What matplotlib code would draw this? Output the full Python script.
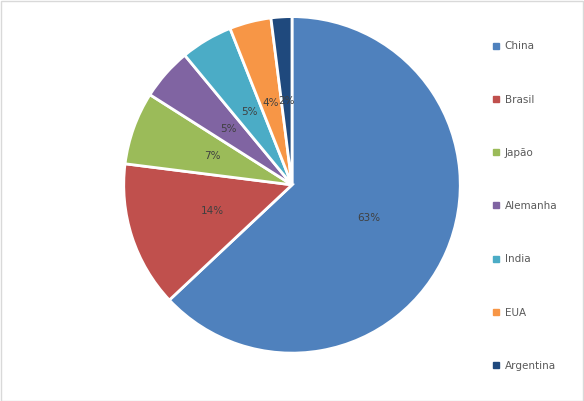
import matplotlib
matplotlib.use("Agg")
import matplotlib.pyplot as plt
from matplotlib.patches import Rectangle
from matplotlib.lines import Line2D

categories = ["China", "Brasil", "Japão", "Alemanha", "India", "EUA", "Argentina"]
values = [63, 14, 7, 5, 5, 4, 2]
colors = ["#4F81BD", "#C0504D", "#9BBB59", "#8064A2", "#4BACC6", "#F79646", "#1F497D"]

fig = plt.figure(figsize=(5.84, 4.01), dpi=100)
fig.patches.append(Rectangle((0.001, 0.001), 0.997, 0.997, transform=fig.transFigure,
                             fill=False, edgecolor="#D9D9D9", linewidth=1))
ax = fig.add_axes([0.5 - 0.291, 0.539 - 0.424, 0.582, 0.848])
wedges, texts, autotexts = ax.pie(values, colors=colors, startangle=90, counterclock=False,
       autopct=lambda p: f"{p:.0f}%", pctdistance=0.5,
       wedgeprops=dict(edgecolor="white", linewidth=2),
       textprops=dict(fontsize=7.5, color="#404040"))
ax.set_xlim(-1.01, 1.01)
ax.set_ylim(-1.01, 1.01)
ax.set_aspect("equal")

handles = [Line2D([], [], marker="s", linestyle="", markersize=4, color=c) for c in colors]
fig.legend(handles, categories, loc="upper left", bbox_to_anchor=(0.825, 0.92),
           frameon=False, fontsize=7.5, labelspacing=4.15, handletextpad=0.3,
           labelcolor="#595959", handlelength=1)
fig.savefig("out.png", dpi=100)
